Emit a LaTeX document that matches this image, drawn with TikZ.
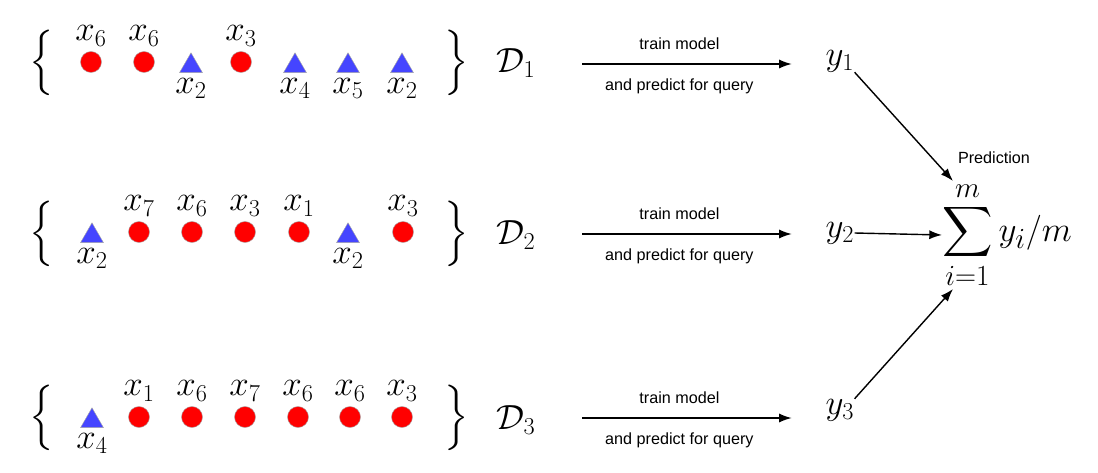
\documentclass[tikz,border=0pt]{standalone}
\usepackage{fontspec}
\setsansfont{Liberation Sans}
\usepackage{amsmath}
\usetikzlibrary{arrows.meta,positioning,shapes.geometric}
\definecolor{dotred}{rgb}{1,0,0}
\definecolor{triblue}{rgb}{0.27,0.27,1}

\begin{document}
\begin{tikzpicture}[x=0.025cm, y=-0.025cm,
  big/.style={font=\fontsize{27}{32}\selectfont, inner sep=0pt},
  brace/.style={font=\fontsize{18}{22}\selectfont, inner sep=0pt, scale=1.5},
  dot/.style={circle, fill=dotred, draw=gray!70, line width=0.3pt, minimum size=0.525cm, inner sep=0pt},
  tri/.style={regular polygon, regular polygon sides=3, fill=triblue, draw=gray!70, line width=0.3pt, minimum size=0.66cm, inner sep=0pt},
  every label/.style={font=\fontsize{27}{32}\selectfont, inner sep=0pt},
  label distance=3.5pt,
  arr/.style={-{Latex[length=9pt, width=6.5pt]}, line width=1pt},
  small/.style={font=\sffamily\fontsize{11.5}{13}\selectfont, inner sep=0pt}]
  \useasboundingbox (0,0) rectangle (1098,473);

  % First sample D1
  \node[brace] (lbA) at (42,63) {$\Big\{$};
  \node[dot, label=above:$x_6$] (a1) at (91,62) {};
  \node[dot, label=above:$x_6$] (a2) at (144,62) {};
  \node[tri, label=below:$x_2$] (a3) at (191,66) {};
  \node[dot, label=above:$x_3$] (a4) at (241,62) {};
  \node[tri, label=below:$x_4$] (a5) at (295,66) {};
  \node[tri, label=below:$x_5$] (a6) at (348,66) {};
  \node[tri, label=below:$x_2$] (a7) at (402,66) {};
  \node[brace] (rbA) at (457,63) {$\Big\}$};
  \node[big] (dA) at (516,63) {$\mathcal{D}_1$};

  % Second sample D2
  \node[brace] (lbB) at (42,234) {$\Big\{$};
  \node[tri, label=below:$x_2$] (b1) at (92,236) {};
  \node[dot, label=above:$x_7$] (b2) at (139,232) {};
  \node[dot, label=above:$x_6$] (b3) at (192,232) {};
  \node[dot, label=above:$x_3$] (b4) at (245,232) {};
  \node[dot, label=above:$x_1$] (b5) at (299,232) {};
  \node[tri, label=below:$x_2$] (b6) at (348,236) {};
  \node[dot, label=above:$x_3$] (b7) at (403,232) {};
  \node[brace] (rbB) at (457,234) {$\Big\}$};
  \node[big] (dB) at (516,235) {$\mathcal{D}_2$};

  % Third sample D3
  \node[brace] (lbC) at (42,418) {$\Big\{$};
  \node[tri, label=below:$x_4$] (c1) at (92,421) {};
  \node[dot, label=above:$x_1$] (c2) at (139,417) {};
  \node[dot, label=above:$x_6$] (c3) at (192,417) {};
  \node[dot, label=above:$x_7$] (c4) at (245,417) {};
  \node[dot, label=above:$x_6$] (c5) at (298,417) {};
  \node[dot, label=above:$x_6$] (c6) at (350,417) {};
  \node[dot, label=above:$x_3$] (c7) at (402,417) {};
  \node[brace] (rbC) at (457,418) {$\Big\}$};
  \node[big] (dC) at (516,420) {$\mathcal{D}_3$};

  % predictions and the average
  \node[big] (yA) at (840,61) {$y_1$};
  \node[big] (yB) at (840,233) {$y_2$};
  \node[big] (yC) at (840,410) {$y_3$};
  \node[font=\fontsize{28}{33}\selectfont, inner sep=0pt] (S) at (1007,235) {$\displaystyle\sum_{i=1}^{m} y_i/m$};
  \node[small] (pred) at (994,158) {Prediction};

  \coordinate (sA) at (582,64);
  \coordinate (sB) at (582,234);
  \coordinate (sC) at (582,418);

  % train arrows
  \draw[arr, shorten >=24pt] (sA) -- (yA.west |- sA) node[pos=0.4, above=10pt, small] {train model} node[pos=0.4, below=10pt, small] {and predict for query};
  \draw[arr, shorten >=24pt] (sB) -- (yB.west |- sB) node[pos=0.4, above=10pt, small] {train model} node[pos=0.4, below=10pt, small] {and predict for query};
  \draw[arr, shorten >=24pt] (sC) -- (yC.west |- sC) node[pos=0.4, above=10pt, small] {train model} node[pos=0.4, below=10pt, small] {and predict for query};

  % combining arrows
  \draw[arr] (yA.south east) -- (S.135);
  \draw[arr] (yB.east) -- (S.west);
  \draw[arr] (yC.north east) -- (S.225);
\end{tikzpicture}
\end{document}
